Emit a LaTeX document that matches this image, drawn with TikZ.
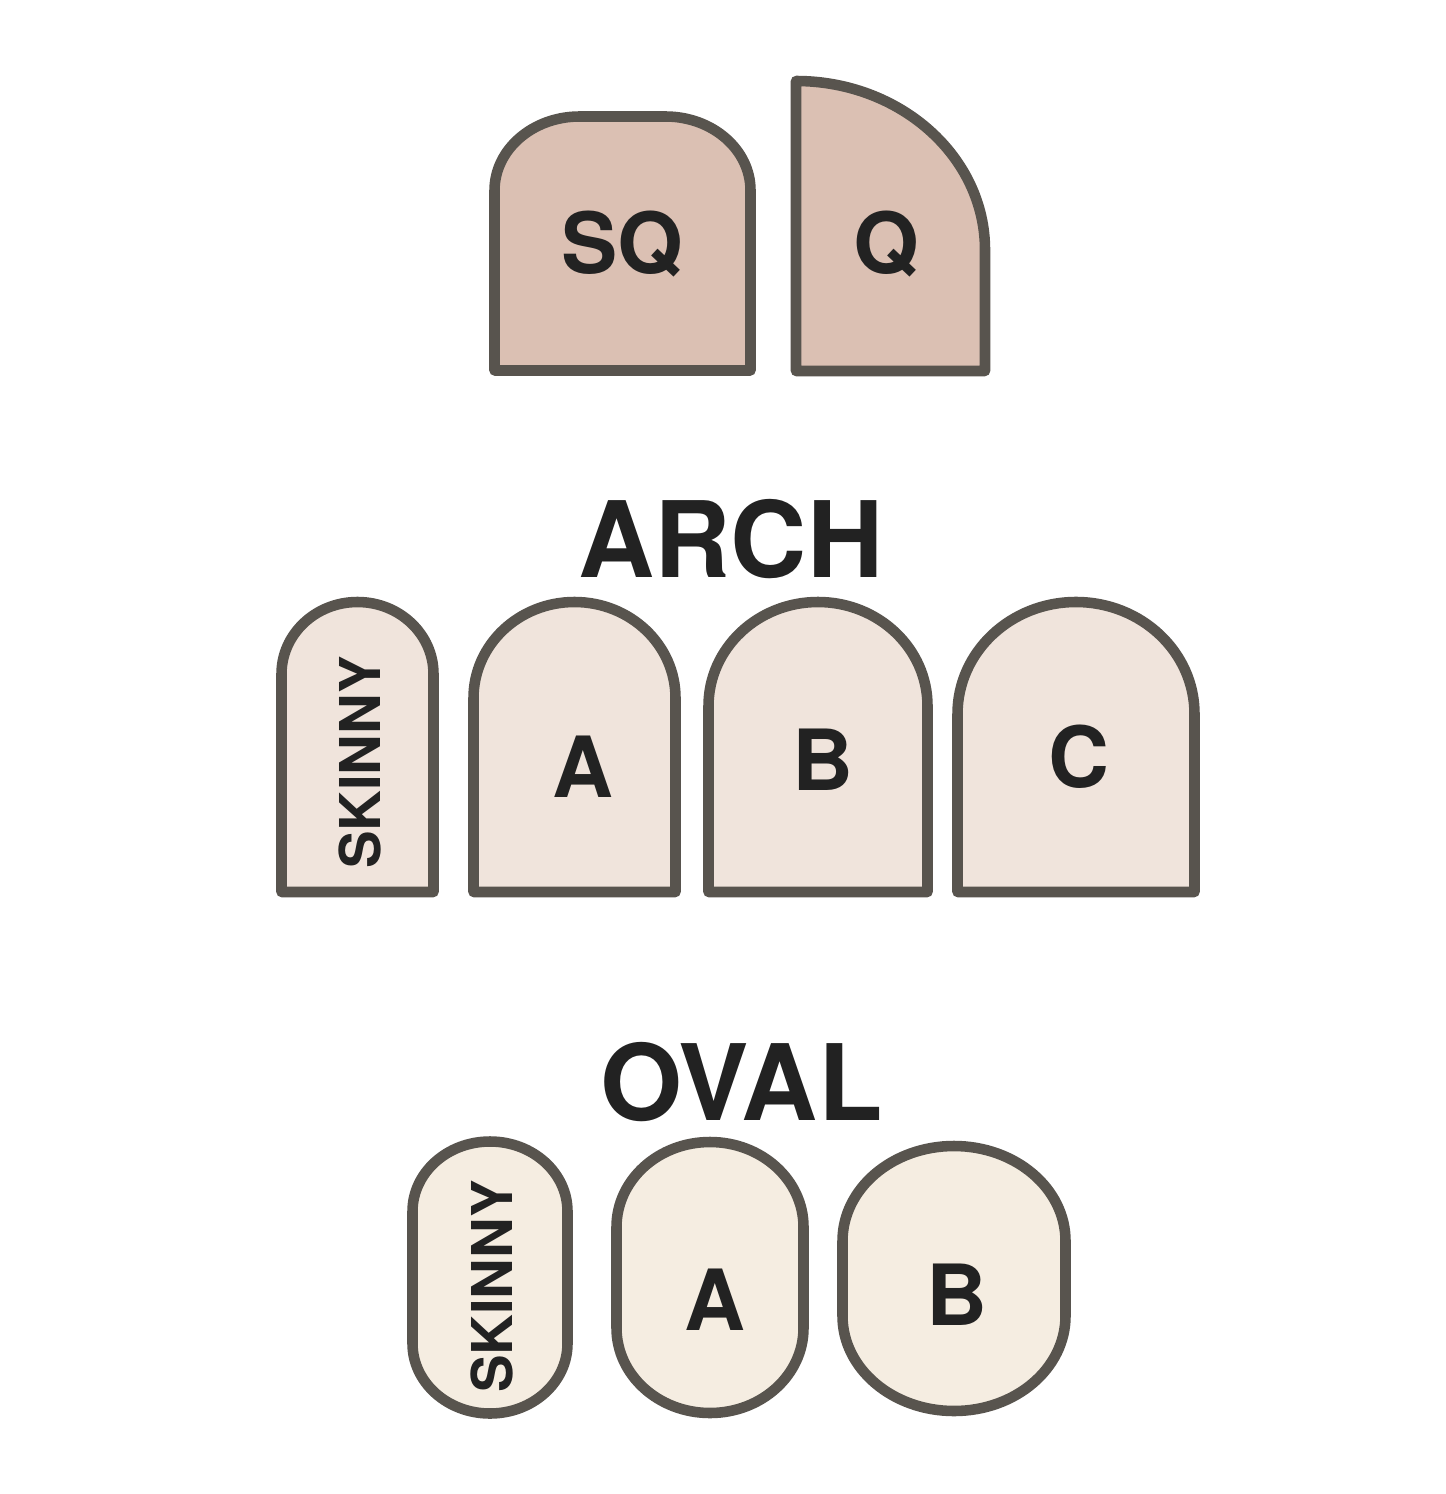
\documentclass[tikz,border=0pt]{standalone}
\usepackage{fontspec}
\setmainfont{TeX Gyre Heros}
\usepackage{tikz}

\definecolor{outline}{HTML}{58544E}
\definecolor{sqfill}{HTML}{DBC0B3}
\definecolor{archfill}{HTML}{F0E4DC}
\definecolor{ovalfill}{HTML}{F5EDE1}
\definecolor{ink}{HTML}{222222}

\tikzset{
    cutter/.style = {draw = outline, line width = 3pt, line join = round},
    tag/.style = {font = \bfseries\fontsize{24}{24}\selectfont, text = ink, anchor = base, inner sep = 0pt},
    title/.style = {font = \bfseries\fontsize{30}{30}\selectfont, text = ink, anchor = base, inner sep = 0pt},
    sidetag/.style = {font = \bfseries\fontsize{16}{16}\selectfont, text = ink, rotate = 90, inner sep = 0pt}
}

\begin{document}
\begin{tikzpicture}[x = 0.01cm, y = 0.01cm]
                \useasboundingbox[fill = white] (0, 0) rectangle (1445, -1494);

                % top row
                \draw[cutter, fill = sqfill]
                (494.5, -370.5) coordinate(sq) -- ++(0, 180)
                    arc[start angle = 180, end angle = 90, x radius = 85, y radius = 74]
                    -- ++(86, 0)
                    arc[start angle = 90, end angle = 0, x radius = 85, y radius = 74]
                    -- ++(0, -180) -- cycle

                (796, -371) coordinate(q) -- ++(0, 290)
                    arc[start angle = 90, end angle = 0, x radius = 189, y radius = 169]
                    -- ++(0, -121) -- cycle
                ;
                \node[tag] (sqtag) at (622, -273) {SQ};
                \node[tag] (qtag) at (886, -273) {Q};

                % arches
                \node[title] (archtitle) at (731, -577) {ARCH};
                \draw[cutter, fill = archfill]
                (281.5, -892) coordinate(archskinny) -- ++(0, 218)
                    arc[start angle = 180, end angle = 0, x radius = 76, y radius = 72] -- ++(0, -218) -- cycle
                (473.5, -892) coordinate(archa) -- ++(0, 194)
                    arc[start angle = 180, end angle = 0, x radius = 101, y radius = 96] -- ++(0, -194) -- cycle
                (708.5, -892) coordinate(archb) -- ++(0, 186)
                    arc[start angle = 180, end angle = 0, x radius = 109.5, y radius = 104] -- ++(0, -186) -- cycle
                (957.5, -892) coordinate(archc) -- ++(0, 178)
                    arc[start angle = 180, end angle = 0, x radius = 118.5, y radius = 112] -- ++(0, -178) -- cycle
                ;
                \node[sidetag] (archskinnytag) at (360, -762.5) {SKINNY};
                \node[tag] (archatag) at (583, -797) {A};
                \node[tag] (archbtag) at (822.5, -790) {B};
                \node[tag] (archctag) at (1079, -787) {C};

                % ovals
                \node[title] (ovaltitle) at (741.5, -1120) {OVAL};
                \draw[cutter, fill = ovalfill]
                (412.5, -1343.5) coordinate(ovalskinny) -- ++(0, 132)
                    arc[start angle = 180, end angle = 0, x radius = 77.5, y radius = 70] -- ++(0, -132)
                    arc[start angle = 0, end angle = -180, x radius = 77.5, y radius = 70] -- cycle
                (616.5, -1328) coordinate(ovala) -- ++(0, 101)
                    arc[start angle = 180, end angle = 0, x radius = 93.5, y radius = 85] -- ++(0, -101)
                    arc[start angle = 0, end angle = -180, x radius = 93.5, y radius = 85] -- cycle
                (842.5, -1316) coordinate(ovalb) -- ++(0, 75)
                    arc[start angle = 180, end angle = 0, x radius = 111.5, y radius = 95] -- ++(0, -75)
                    arc[start angle = 0, end angle = -180, x radius = 111.5, y radius = 95] -- cycle
                ;
                \node[sidetag] (ovalskinnytag) at (492, -1286.5) {SKINNY};
                \node[tag] (ovalatag) at (715, -1330) {A};
                \node[tag] (ovalbtag) at (956.5, -1325) {B};
\end{tikzpicture}
\end{document}
